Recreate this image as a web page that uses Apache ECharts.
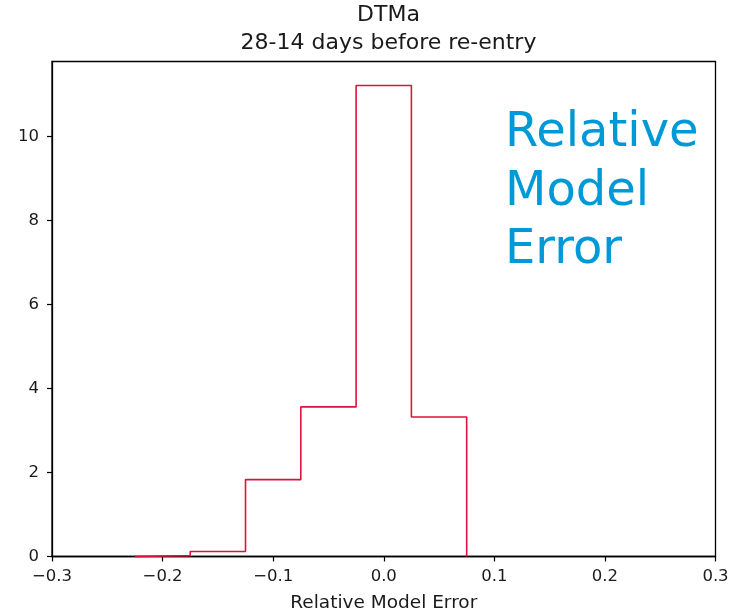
<!DOCTYPE html>
<html>
<head>
<meta charset="utf-8">
<script src="https://cdn.jsdelivr.net/npm/echarts@6/dist/echarts.min.js"></script>
<style>
html,body{margin:0;padding:0;background:#fff;}
#chart{width:743px;height:615px;}
</style>
</head>
<body>
<div id="chart"></div>
<script>
const titleLines = ['DTMa', '28-14 days before re-entry'];
const xAxisName = 'Relative Model Error';
const annotationLines = ['Relative', 'Model', 'Error'];
const binEdges = [-0.225, -0.175, -0.125, -0.075, -0.025, 0.025, 0.075];
const binHeights = [0.02, 0.12, 1.83, 3.56, 11.21, 3.32];
const xTicks = [-0.3, -0.2, -0.1, 0.0, 0.1, 0.2, 0.3];
const yTicks = [0, 2, 4, 6, 8, 10];

// build step outline from bins
const stepData = [];
stepData.push([binEdges[0], 0]);
for (let i = 0; i < binHeights.length; i++) {
  stepData.push([binEdges[i], binHeights[i]]);
  stepData.push([binEdges[i + 1], binHeights[i]]);
}
stepData.push([binEdges[binEdges.length - 1], 0]);

const chart = echarts.init(document.getElementById('chart'), null, {renderer: 'canvas'});
const font = 'DejaVu Sans';
const txt = '#1a1a1a';

const option = {
  backgroundColor: '#fff',
  animation: false,
  title: {
    text: titleLines.join('\n'),
    left: 383.5,
    textAlign: 'center',
    top: -4,
    textStyle: {fontFamily: font, fontSize: 22, fontWeight: 'normal', color: txt, lineHeight: 28}
  },
  grid: {
    left: 52, right: 27.5, top: 61.5, bottom: 58.5,
    outerBoundsMode: 'none',
    containLabel: false,
    show: true, borderColor: '#000', borderWidth: 1.3, backgroundColor: 'transparent'
  },
  xAxis: {
    type: 'value',
    min: xTicks[0], max: xTicks[xTicks.length - 1], interval: 0.1,
    name: xAxisName,
    nameLocation: 'middle',
    nameGap: 37,
    nameTextStyle: {fontFamily: font, fontSize: 18.5, color: txt},
    axisLine: {show: true, onZero: false, lineStyle: {color: '#000', width: 1.3}},
    axisTick: {show: true, inside: false, length: 5, lineStyle: {color: '#000', width: 1.2}},
    axisLabel: {
      fontFamily: font, fontSize: 16.5, color: txt, margin: 12,
      formatter: v => (Math.round(v * 10) / 10).toFixed(1).replace('-', '\u2212')
    },
    splitLine: {show: false}
  },
  yAxis: {
    type: 'value',
    min: 0, max: 11.78, interval: 2,
    axisLine: {show: true, onZero: false, lineStyle: {color: '#000', width: 1.3}},
    axisTick: {show: true, inside: false, length: 5, lineStyle: {color: '#000', width: 1.2}},
    axisLabel: {
      fontFamily: font, fontSize: 16.5, color: txt, margin: 13,
      showMaxLabel: false,
      formatter: v => (yTicks.indexOf(v) >= 0 ? String(v) : '')
    },
    splitLine: {show: false}
  },
  series: [{
    type: 'line',
    data: stepData,
    symbol: 'none',
    lineStyle: {color: '#dc143c', width: 1.6},
    clip: false
  }],
  graphic: annotationLines.map((t, i) => ({
    type: 'text',
    x: 505,
    y: 110 + i * 58.5,
    style: {
      text: t,
      fontFamily: font,
      fontSize: 48,
      fill: '#0099d8'
    }
  }))
};
chart.setOption(option);
</script>
</body>
</html>
